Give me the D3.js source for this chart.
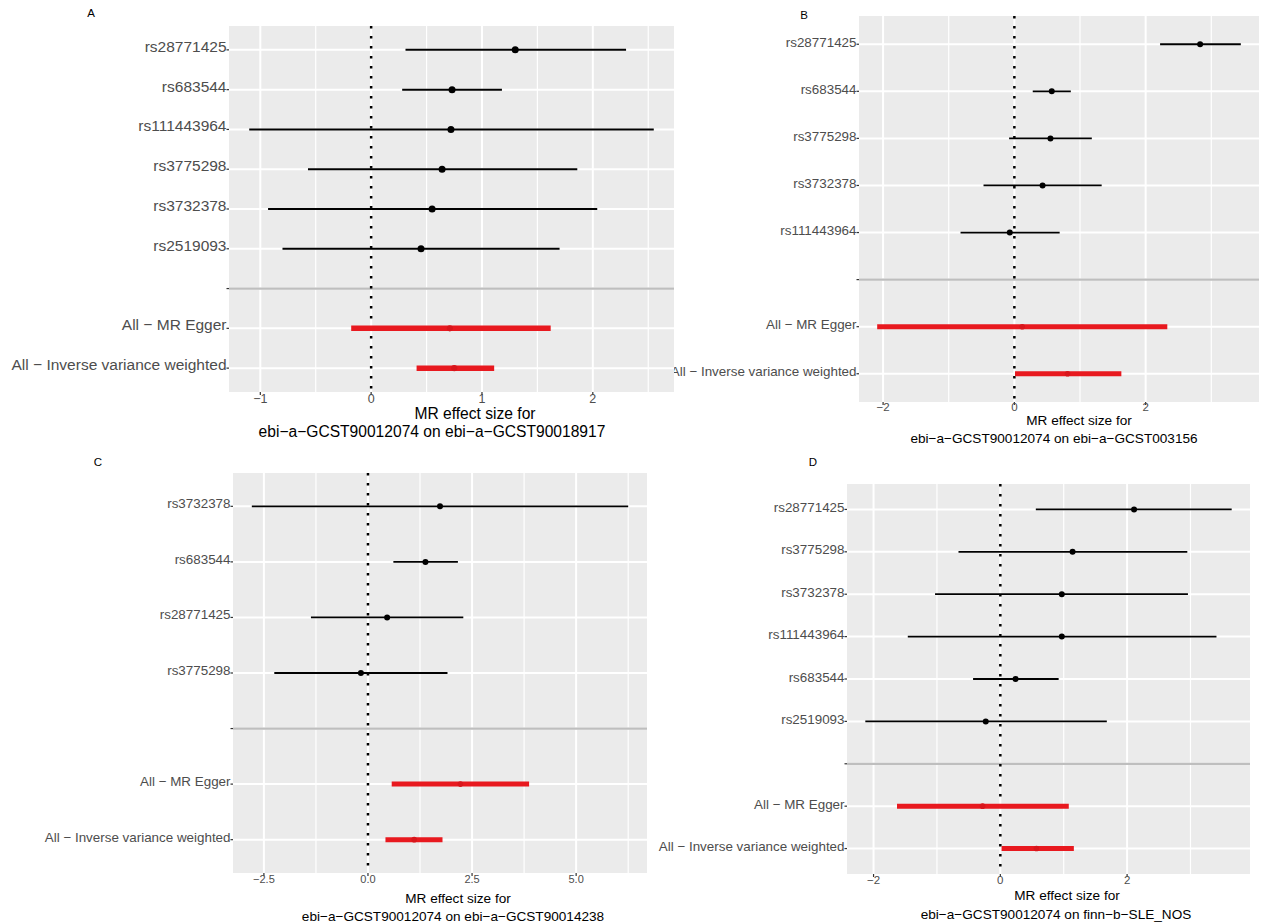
<!DOCTYPE html>
<html>
<head>
<meta charset="utf-8">
<script src="https://cdn.jsdelivr.net/npm/d3@7"></script>
<style>
  html, body { margin: 0; padding: 0; background: #ffffff; }
  svg { display: block; font-family: "Liberation Sans", Arial, sans-serif; }
</style>
</head>
<body>
<svg id="chart" width="1268" height="924"></svg>
<script>
// ---------------- DATA ----------------
const summaryLabels = ["All \u2212 MR Egger", "All \u2212 Inverse variance weighted"];

// Panel A: outcome ebi-a-GCST90018917
const snpsA = ["rs28771425", "rs683544", "rs111443964", "rs3775298", "rs3732378", "rs2519093"];
const estA  = [1.30, 0.73, 0.72, 0.64, 0.55, 0.45];
const loA   = [0.31, 0.28, -1.10, -0.57, -0.93, -0.80];
const hiA   = [2.30, 1.18, 2.55, 1.86, 2.04, 1.70];
const sumEstA = [0.71, 0.75];
const sumLoA  = [-0.18, 0.41];
const sumHiA  = [1.62, 1.11];
const ticksA = [-1, 0, 1, 2];
const tickLabelsA = ["\u22121", "0", "1", "2"];
const minorA = [-0.5, 0.5, 1.5, 2.5];
const titleA = ["MR effect size for", "ebi\u2212a\u2212GCST90012074 on ebi\u2212a\u2212GCST90018917"];

// Panel B: outcome ebi-a-GCST003156
const snpsB = ["rs28771425", "rs683544", "rs3775298", "rs3732378", "rs111443964"];
const estB  = [2.83, 0.57, 0.55, 0.43, -0.07];
const loB   = [2.22, 0.28, -0.08, -0.47, -0.82];
const hiB   = [3.45, 0.86, 1.18, 1.33, 0.69];
const sumEstB = [0.12, 0.81];
const sumLoB  = [-2.09, 0.01];
const sumHiB  = [2.33, 1.63];
const ticksB = [-2, 0, 2];
const tickLabelsB = ["\u22122", "0", "2"];
const minorB = [-1, 1, 3];
const titleB = ["MR effect size for", "ebi\u2212a\u2212GCST90012074 on ebi\u2212a\u2212GCST003156"];

// Panel C: outcome ebi-a-GCST90014238
const snpsC = ["rs3732378", "rs683544", "rs28771425", "rs3775298"];
const estC  = [1.73, 1.38, 0.46, -0.17];
const loC   = [-2.79, 0.61, -1.37, -2.25];
const hiC   = [6.25, 2.16, 2.29, 1.91];
const sumEstC = [2.22, 1.11];
const sumLoC  = [0.57, 0.42];
const sumHiC  = [3.87, 1.79];
const ticksC = [-2.5, 0, 2.5, 5];
const tickLabelsC = ["\u22122.5", "0.0", "2.5", "5.0"];
const minorC = [-1.25, 1.25, 3.75, 6.25];
const titleC = ["MR effect size for", "ebi\u2212a\u2212GCST90012074 on ebi\u2212a\u2212GCST90014238"];

// Panel D: outcome finn-b-SLE_NOS
const snpsD = ["rs28771425", "rs3775298", "rs3732378", "rs111443964", "rs683544", "rs2519093"];
const estD  = [2.11, 1.14, 0.97, 0.97, 0.24, -0.23];
const loD   = [0.56, -0.66, -1.03, -1.46, -0.43, -2.13];
const hiD   = [3.65, 2.95, 2.96, 3.41, 0.92, 1.68];
const sumEstD = [-0.28, 0.57];
const sumLoD  = [-1.63, 0.02];
const sumHiD  = [1.08, 1.16];
const ticksD = [-2, 0, 2];
const tickLabelsD = ["\u22122", "0", "2"];
const minorD = [-1, 1, 3];
const titleD = ["MR effect size for", "ebi\u2212a\u2212GCST90012074 on finn\u2212b\u2212SLE_NOS"];

// ---------------- LAYOUT ----------------
const panels = [
  { letter: "B", snps: snpsB, est: estB, lo: loB, hi: hiB, sEst: sumEstB, sLo: sumLoB, sHi: sumHiB,
    ticks: ticksB, tickLabels: tickLabelsB, minor: minorB, title: titleB,
    box: { x0: 859, x1: 1259, y0: 16, y1: 402 }, letterPos: [804, 15],
    yFont: 13.4, tickFont: 11.5, titleFont: 13.6, tickY: 407, t1: [1079, 420], t2: [1054, 438],
    lw: 1.8, r: 3, redW: 5, labelDy: -2 },
  { letter: "D", snps: snpsD, est: estD, lo: loD, hi: hiD, sEst: sumEstD, sLo: sumLoD, sHi: sumHiD,
    ticks: ticksD, tickLabels: tickLabelsD, minor: minorD, title: titleD,
    box: { x0: 847, x1: 1250, y0: 484, y1: 874 }, letterPos: [813, 462],
    yFont: 13.4, tickFont: 11.5, titleFont: 13.6, tickY: 880, t1: [1067, 895], t2: [1056, 914],
    lw: 1.8, r: 3, redW: 5, labelDy: -2 },
  { letter: "A", snps: snpsA, est: estA, lo: loA, hi: hiA, sEst: sumEstA, sLo: sumLoA, sHi: sumHiA,
    ticks: ticksA, tickLabels: tickLabelsA, minor: minorA, title: titleA,
    box: { x0: 229, x1: 674, y0: 26, y1: 392 }, letterPos: [91, 13],
    yFont: 15.5, tickFont: 12.5, titleFont: 15.6, tickY: 399, t1: [475, 413.5], t2: [432, 431.5],
    lw: 2, r: 3.5, redW: 5.5, labelDy: -3.5 },
  { letter: "C", snps: snpsC, est: estC, lo: loC, hi: hiC, sEst: sumEstC, sLo: sumLoC, sHi: sumHiC,
    ticks: ticksC, tickLabels: tickLabelsC, minor: minorC, title: titleC,
    box: { x0: 233, x1: 647, y0: 473, y1: 873 }, letterPos: [98, 462],
    yFont: 13.4, tickFont: 11, titleFont: 13.6, tickY: 879, t1: [458, 898], t2: [453, 916],
    lw: 1.8, r: 3, redW: 5, labelDy: -2.5 }
];

const svg = d3.select("#chart");
const RED = "#e8191f";
const TEXT_GREY = "#4d4d4d";

panels.forEach(p => {
  const g = svg.append("g");
  const b = p.box;
  const allVals = p.lo.concat(p.hi, p.sLo, p.sHi);
  const mn = d3.min(allVals), mx = d3.max(allVals);
  const pad = (mx - mn) * 0.05;
  const x = d3.scaleLinear().domain([mn - pad, mx + pad]).range([b.x0, b.x1]);
  const rows = p.snps.concat([" "], summaryLabels);
  const y = d3.scalePoint().domain(rows).range([b.y0, b.y1]).padding(0.6);

  // background
  g.append("rect").attr("x", b.x0).attr("y", b.y0)
    .attr("width", b.x1 - b.x0).attr("height", b.y1 - b.y0).attr("fill", "#ebebeb");

  // minor vertical gridlines
  g.selectAll(".minor").data(p.minor.filter(v => x(v) > b.x0 && x(v) < b.x1)).enter().append("line")
    .attr("x1", d => x(d)).attr("x2", d => x(d)).attr("y1", b.y0).attr("y2", b.y1)
    .attr("stroke", "#ffffff").attr("stroke-width", 1.2);
  // major vertical gridlines
  g.selectAll(".major").data(p.ticks).enter().append("line")
    .attr("x1", d => x(d)).attr("x2", d => x(d)).attr("y1", b.y0).attr("y2", b.y1)
    .attr("stroke", "#ffffff").attr("stroke-width", 2);
  // horizontal gridlines
  g.selectAll(".hgrid").data(rows).enter().append("line")
    .attr("x1", b.x0).attr("x2", b.x1).attr("y1", d => y(d)).attr("y2", d => y(d))
    .attr("stroke", "#ffffff").attr("stroke-width", 2);

  // separator line at blank row
  g.append("line").attr("x1", b.x0).attr("x2", b.x1)
    .attr("y1", y(" ")).attr("y2", y(" "))
    .attr("stroke", "#bebebe").attr("stroke-width", 2.2);

  // zero reference line (dotted)
  g.append("line").attr("x1", x(0)).attr("x2", x(0)).attr("y1", b.y0).attr("y2", b.y1)
    .attr("stroke", "#000000").attr("stroke-width", 2.5).attr("stroke-dasharray", "2.5,7.5");

  // SNP error bars and points
  p.snps.forEach((s, i) => {
    g.append("line").attr("x1", x(p.lo[i])).attr("x2", x(p.hi[i]))
      .attr("y1", y(s)).attr("y2", y(s)).attr("stroke", "#000000").attr("stroke-width", p.lw);
    g.append("circle").attr("cx", x(p.est[i])).attr("cy", y(s)).attr("r", p.r).attr("fill", "#000000");
  });

  // summary estimates
  summaryLabels.forEach((s, i) => {
    g.append("line").attr("x1", x(p.sLo[i])).attr("x2", x(p.sHi[i]))
      .attr("y1", y(s)).attr("y2", y(s)).attr("stroke", RED).attr("stroke-width", p.redW);
    g.append("circle").attr("cx", x(p.sEst[i])).attr("cy", y(s)).attr("r", p.redW * 0.5 + 0.3)
      .attr("fill", "#d8161c");
  });

  // y-axis ticks and labels
  rows.forEach(s => {
    g.append("line").attr("x1", b.x0 - 2.5).attr("x2", b.x0).attr("y1", y(s)).attr("y2", y(s))
      .attr("stroke", "#333333").attr("stroke-width", 1.2);
  });
  g.selectAll(".ylab").data(rows).enter().append("text")
    .attr("x", b.x0 - 2.5).attr("y", d => y(d) + p.labelDy)
    .attr("text-anchor", "end").attr("dominant-baseline", "central")
    .attr("font-size", p.yFont).attr("fill", TEXT_GREY).text(d => d.trim());

  // x-axis ticks and labels
  p.ticks.forEach((t, i) => {
    g.append("line").attr("x1", x(t)).attr("x2", x(t)).attr("y1", b.y1).attr("y2", b.y1 + 3)
      .attr("stroke", "#333333").attr("stroke-width", 1.2);
    g.append("text").attr("x", x(t)).attr("y", p.tickY)
      .attr("text-anchor", "middle").attr("dominant-baseline", "central")
      .attr("font-size", p.tickFont).attr("fill", TEXT_GREY).text(p.tickLabels[i]);
  });

  // axis title (two lines)
  g.append("text").attr("x", p.t1[0]).attr("y", p.t1[1]).attr("text-anchor", "middle")
    .attr("dominant-baseline", "central").attr("font-size", p.titleFont).attr("fill", "#000")
    .text(p.title[0]);
  g.append("text").attr("x", p.t2[0]).attr("y", p.t2[1]).attr("text-anchor", "middle")
    .attr("dominant-baseline", "central").attr("font-size", p.titleFont).attr("fill", "#000")
    .text(p.title[1]);

  // panel letter
  g.append("text").attr("x", p.letterPos[0]).attr("y", p.letterPos[1]).attr("text-anchor", "middle")
    .attr("dominant-baseline", "central").attr("font-size", 11.5).attr("fill", "#000").text(p.letter);
});
</script>
</body>
</html>
